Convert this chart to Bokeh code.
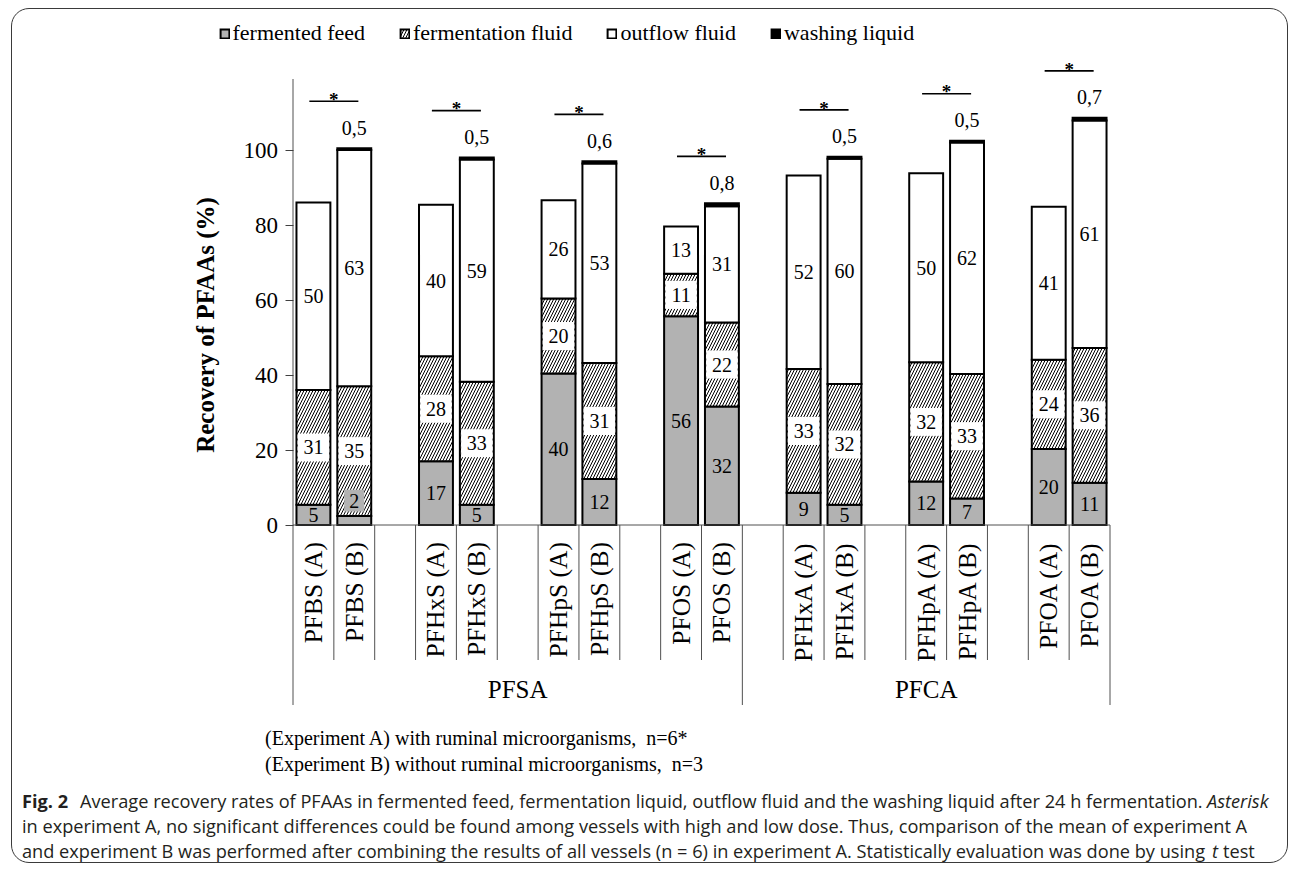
import math
from bokeh.plotting import figure
from bokeh.models import Range1d, FixedTicker, Legend, LegendItem, Label, ColumnDataSource
from bokeh.embed import file_html
from bokeh.resources import INLINE
from bokeh.core.properties import value

# ---------------- data ----------------
compounds = ["PFBS", "PFHxS", "PFHpS", "PFOS", "PFHxA", "PFHpA", "PFOA"]
classes = ["PFSA", "PFCA"]
class_sizes = [4, 3]
experiments = ["A", "B"]

feed_A = [5.4, 17.0, 40.4, 55.7, 8.6, 11.6, 20.3]
fluid_A = [30.6, 28.0, 20.0, 11.3, 33.0, 31.8, 23.8]
outflow_A = [50.0, 40.4, 26.2, 12.6, 51.6, 50.4, 40.8]
washing_A = [0, 0, 0, 0, 0, 0, 0]

feed_B = [2.4, 5.4, 12.3, 31.6, 5.4, 7.1, 11.3]
fluid_B = [34.6, 32.8, 30.9, 22.4, 32.2, 33.2, 35.9]
outflow_B = [63.0, 59.3, 53.2, 31.0, 60.1, 61.7, 60.7]
washing_B = [0.5, 0.5, 0.6, 0.8, 0.5, 0.5, 0.7]

y_ticks = [0, 20, 40, 60, 80, 100]
series_names = ["fermented feed", "fermentation fluid", "outflow fluid", "washing liquid"]

y_title = "Recovery of PFAAs (%)"
exp_notes = ["(Experiment A) with ruminal microorganisms,\u00a0 n=6*",
             "(Experiment B) without ruminal microorganisms,\u00a0 n=3"]
cap_fig = "Fig. 2"
cap_l1 = ("Average recovery rates of PFAAs in fermented feed, fermentation liquid, "
          "outflow fluid and the washing liquid after 24 h fermentation.")
cap_l1_it = "Asterisk"
cap_l2 = ("in experiment A, no significant differences could be found among vessels with high "
          "and low dose. Thus, comparison of the mean of experiment A")
cap_l3 = ("and experiment B was performed after combining the results of all vessels (n = 6) "
          "in experiment A. Statistically evaluation was done by using")
cap_l3_it = "t"
cap_l3_end = "test"

# ---------------- layout helpers (page pixels -> data) ----------------
W, H = 1277, 855
CX0, CY0 = 12.5, 9.5  # page position of the canvas (after margin + border)
PXX = 40.85           # px per category slot
PXY = 3.75            # px per percent
X0P, Y0P = 293, 525   # page px of data (-0.5, 0)


def dx(px):
    return -0.5 + (px - X0P) / PXX


def dy(py):
    return (Y0P - py) / PXY


SERIF = "Liberation Serif"
SANS = "Open Sans"

# ---------------- build stacked table ----------------
xs, cat_lab = [], []
feed, fluid, outflow, washing = [], [], [], []
for k, c in enumerate(compounds):
    for j, e in enumerate(experiments):
        xs.append(3 * k + j)
        cat_lab.append(f"{c} ({e})")
        if e == "A":
            feed.append(feed_A[k]); fluid.append(fluid_A[k])
            outflow.append(outflow_A[k]); washing.append(washing_A[k])
        else:
            feed.append(feed_B[k]); fluid.append(fluid_B[k])
            outflow.append(outflow_B[k]); washing.append(washing_B[k])

t1 = feed[:]
t2 = [a + b for a, b in zip(t1, fluid)]
t3 = [a + b for a, b in zip(t2, outflow)]
t4 = [a + b for a, b in zip(t3, washing)]

src = ColumnDataSource(dict(
    x=xs, cat=cat_lab, t1=t1, t2=t2, t3=t3,
    m1=[v / 2 for v in t1],
    m2=[(a + b) / 2 for a, b in zip(t1, t2)],
    m3=[(a + b) / 2 for a, b in zip(t2, t3)],
    l1=[f"{v:.0f}" for v in feed],
    l2=[f"{v:.0f}" for v in fluid],
    l3=[f"{v:.0f}" for v in outflow],
))
wi = [i for i, v in enumerate(washing) if v > 0]
wsrc = ColumnDataSource(dict(
    x=[xs[i] for i in wi], b=[t3[i] for i in wi], t=[t4[i] for i in wi],
    ly=[t4[i] + 5.5 for i in wi],
    lab=[f"{washing[i]:.1f}".replace(".", ",") for i in wi],
))

# ---------------- figure ----------------
p = figure(width=W, height=H, output_backend="svg", toolbar_location=None,
           x_range=Range1d(dx(CX0), dx(CX0 + W)), y_range=Range1d(dy(CY0 + H), dy(CY0)),
           x_axis_location=None, y_axis_location="left",
           min_border_left=0, min_border_right=0, min_border_top=0, min_border_bottom=0,
           styles={"border": "1.5px solid #3a3a3a", "border-radius": "18px",
                   "overflow": "hidden", "margin": "8px 0 0 11px"})
p.border_fill_color = None
p.background_fill_color = None
p.outline_line_color = None
p.xgrid.visible = False
p.ygrid.visible = False

ax = p.yaxis[0]
ax.fixed_location = -0.5
ax.ticker = FixedTicker(ticks=y_ticks)
ax.axis_line_color = None
ax.major_tick_line_color = "#404040"
ax.major_tick_out = 8
ax.major_tick_in = 0
ax.minor_tick_line_color = None
ax.major_label_text_font = SERIF
ax.major_label_text_font_size = "23px"
ax.major_label_text_color = "black"
ax.major_label_standoff = 7

BW = 0.83
common = dict(width=BW, line_color="black", line_width=2, line_join="miter")
r_feed = p.vbar(x="x", bottom=0, top="t1", source=src, fill_color="#b2b2b2", **common)
r_fluid = p.vbar(x="x", bottom="t1", top="t2", source=src, fill_color="white",
                 hatch_pattern="/", hatch_color="black", hatch_scale=6, hatch_weight=1, **common)
r_out = p.vbar(x="x", bottom="t2", top="t3", source=src, fill_color="white", **common)
r_wash = p.vbar(x="x", bottom="b", top="t", source=wsrc, fill_color="black", **common)

# white label bands on hatched segments
inner_w = (BW * PXX - 2.5) / PXX
p.rect(x="x", y="m2", width=inner_w, height=28, height_units="screen", source=src,
       fill_color="white", line_color=None)

# feed labels (one small label lifted out of a thin segment, on its own grey box)
feed_y = list(src.data["m1"])
nudge = {"PFBS (B)": 6.5}
for i, c in enumerate(cat_lab):
    if c in nudge:
        feed_y[i] = nudge[c]
fsrc = ColumnDataSource(dict(x=xs, y=feed_y, lab=src.data["l1"], cat=cat_lab))
nx = [xs[i] for i, c in enumerate(cat_lab) if c in nudge]
ny = [feed_y[i] for i, c in enumerate(cat_lab) if c in nudge]
p.rect(x=nx, y=ny, width=20 / PXX, height=22, height_units="screen",
       fill_color="#b2b2b2", line_color=None)

lab_style = dict(text_font=value(SERIF), text_font_size="20px", text_align="center",
                 text_baseline="middle", text_color="black")
p.text(x="x", y="y", text="lab", source=fsrc, **lab_style)
p.text(x="x", y="m2", text="l2", source=src, **lab_style)
p.text(x="x", y="m3", text="l3", source=src, **lab_style)
p.text(x="x", y="ly", text="lab", source=wsrc, **lab_style)

# significance markers between experiment A and B
sig_y = [t4[2 * k + 1] + 12.5 for k in range(len(compounds))]
sx0 = [3 * k - 0.1 for k in range(len(compounds))]
sx1 = [3 * k + 1.1 for k in range(len(compounds))]
p.segment(x0=sx0, y0=sig_y, x1=sx1, y1=sig_y, line_color="black", line_width=1.6)
p.text(x=[(a + b) / 2 for a, b in zip(sx0, sx1)], y=[v + 0.5 for v in sig_y], text=["*"] * len(sig_y),
       text_font=value(SERIF), text_font_size="19px", text_font_style="bold",
       text_align="center", text_baseline="alphabetic", text_color="black")

# category axis (multi level) drawn with the same scales
n_slots = 3 * len(compounds) - 1
bounds = [b + 0.5 for b in range(-1, n_slots)]
group_edges = [-0.5]
acc = 0
for s in class_sizes:
    acc += 3 * s
    group_edges.append(acc - 1.5 if acc < 3 * len(compounds) else n_slots - 0.5)
short = [b for b in bounds if b not in group_edges]
axis_col = "#505050"
p.segment(x0=short, y0=[0] * len(short), x1=short, y1=[dy(660)] * len(short),
          line_color=axis_col, line_width=1)
p.segment(x0=group_edges, y0=[0] * len(group_edges), x1=group_edges,
          y1=[dy(705)] * len(group_edges), line_color=axis_col, line_width=1)
p.segment(x0=[-0.5], y0=[0], x1=[-0.5], y1=[dy(79)], line_color=axis_col, line_width=1)
p.segment(x0=[-0.5], y0=[0], x1=[n_slots - 0.5], y1=[0], line_color=axis_col, line_width=1)
p.text(x="x", y=dy(542), text="cat", source=src, angle=math.pi / 2,
       text_font=value(SERIF), text_font_size="25.5px", text_align="right",
       text_baseline="middle", text_color="black")
gx = [(group_edges[i] + group_edges[i + 1]) / 2 for i in range(len(classes))]
p.text(x=gx, y=[dy(689)] * len(gx), text=classes, text_font=value(SERIF), text_font_size="25px",
       text_align="center", text_baseline="middle", text_color="black")

# legend
legend = Legend(items=[LegendItem(label=n, renderers=[r]) for n, r in
                       zip(series_names, [r_feed, r_fluid, r_out, r_wash])],
                location=(219 - CX0, H - 37), orientation="horizontal",
                glyph_width=11, glyph_height=11, label_standoff=3, spacing=34,
                padding=0, margin=0, border_line_color=None, background_fill_alpha=0,
                label_text_font=SERIF, label_text_font_size="22px", label_text_color="black")
p.add_layout(legend, "center")

# axis title and notes
p.add_layout(Label(x=dx(205), y=dy(325), text=y_title, angle=math.pi / 2,
                   text_font=SERIF, text_font_size="25px", text_font_style="bold",
                   text_align="center", text_baseline="middle", text_color="black"))
for i, t in enumerate(exp_notes):
    p.add_layout(Label(x=dx(265), y=dy(738 + 26 * i), text=t, text_font=SERIF,
                       text_font_size="20px", text_align="left", text_baseline="middle",
                       text_color="black"))

cap_style = dict(text_font=SANS, text_font_size="18.2px", text_baseline="middle", text_color="#231f20")
p.add_layout(Label(x=dx(22), y=dy(801), text=cap_fig, text_font_style="bold", text_align="left", **cap_style))
p.add_layout(Label(x=dx(80), y=dy(801), text=cap_l1, text_align="left", **cap_style))
p.add_layout(Label(x=dx(1207), y=dy(801), text=cap_l1_it, text_font_style="italic", text_align="left", **cap_style))
p.add_layout(Label(x=dx(22), y=dy(826), text=cap_l2, text_align="left", **cap_style))
p.add_layout(Label(x=dx(22), y=dy(851), text=cap_l3, text_align="left", **cap_style))
p.add_layout(Label(x=dx(1212), y=dy(851), text=cap_l3_it, text_font_style="italic", text_align="left", **cap_style))
p.add_layout(Label(x=dx(1223), y=dy(851), text=cap_l3_end, text_align="left", **cap_style))

open("out.html", "w").write(file_html(p, INLINE))
